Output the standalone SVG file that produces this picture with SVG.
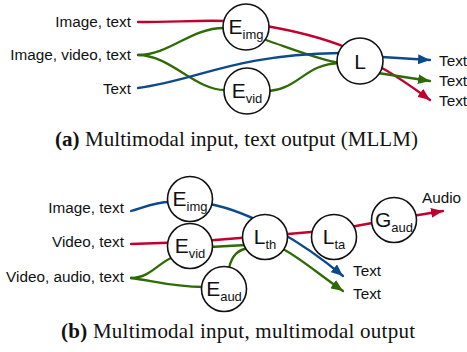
<svg xmlns="http://www.w3.org/2000/svg" width="467" height="352" viewBox="0 0 467 352">
<style>
.lbl{font-family:"Liberation Sans",Arial,sans-serif;font-size:15.3px;fill:#111}
.nl{font-family:"Liberation Sans",Arial,sans-serif;font-size:21px;fill:#111;text-anchor:middle}
.sub{font-size:13px}
.cap{font-family:"Liberation Serif","Times New Roman",serif;font-size:21px;fill:#111;text-anchor:middle}
.node{fill:#fff;stroke:#111;stroke-width:1.6}
.c{fill:none;stroke-width:2.3;stroke-linecap:round}
.r{stroke:#c1002d}
.g{stroke:#2e6b07}
.b{stroke:#0d4a8b}
</style>
<defs>
<marker id="ar" markerUnits="userSpaceOnUse" markerWidth="13" markerHeight="10" refX="12" refY="5" orient="auto"><path d="M0,0 L12,5 L0,10 z" fill="#c1002d"/></marker>
<marker id="ag" markerUnits="userSpaceOnUse" markerWidth="13" markerHeight="10" refX="12" refY="5" orient="auto"><path d="M0,0 L12,5 L0,10 z" fill="#2e6b07"/></marker>
<marker id="ab" markerUnits="userSpaceOnUse" markerWidth="13" markerHeight="10" refX="12" refY="5" orient="auto"><path d="M0,0 L12,5 L0,10 z" fill="#0d4a8b"/></marker>
</defs>
<g id="connectors">
<path class="c r" d="M138,22 C175,22 200,20 226,21"/>
<path class="c r" d="M266,26 C295,31 320,37 345,47 L382,68"/>
<path class="c r" d="M382,68 C400,78 415,89 430,100" marker-end="url(#ar)"/>
<path class="c g" d="M138,55 C170,55 190,28 224,28"/>
<path class="c g" d="M138,55 C170,55 195,90 225,90"/>
<path class="c g" d="M266,40 C295,50 320,60 340,63"/>
<path class="c g" d="M269,91 C300,88 305,64 340,63"/>
<path class="c g" d="M378,73 L430,81" marker-end="url(#ag)"/>
<path class="c b" d="M138,88 C200,80 230,55 340,53"/>
<path class="c b" d="M382,57 L430,60" marker-end="url(#ab)"/>
<path class="c b" d="M131,211 C145,207 155,202 170,202"/>
<path class="c b" d="M210,204 C250,212 300,240 343,276" marker-end="url(#ab)"/>
<path class="c r" d="M131,244 L190,242 L265,236 L334,230 L394,219 L443,211" marker-end="url(#ar)"/>
<path class="c g" d="M131,278 C150,278 158,263 173,257"/>
<path class="c g" d="M131,278 C150,280 170,287 204,287"/>
<path class="c g" d="M210,247 L246,245"/>
<path class="c g" d="M229,268 C232,255 238,250 248,248"/>
<path class="c g" d="M283,249 C300,258 320,275 343,291" marker-end="url(#ag)"/>
</g>
<g id="labels">
<text class="lbl" x="131" y="26.5" text-anchor="end">Image, text</text>
<text class="lbl" x="131" y="60" text-anchor="end">Image, video, text</text>
<text class="lbl" x="131" y="94" text-anchor="end">Text</text>
<text class="lbl" x="439" y="66">Text</text>
<text class="lbl" x="439" y="86">Text</text>
<text class="lbl" x="439" y="106">Text</text>
<text class="lbl" x="124" y="213" text-anchor="end">Image, text</text>
<text class="lbl" x="124" y="247" text-anchor="end">Video, text</text>
<text class="lbl" x="124" y="282" text-anchor="end">Video, audio, text</text>
<text class="lbl" x="353" y="276">Text</text>
<text class="lbl" x="353" y="299">Text</text>
<text class="lbl" x="422" y="203">Audio</text>
</g>
<g id="E_img_a"><circle class="node" cx="246" cy="27" r="23"/><text class="nl" x="246" y="34">E<tspan class="sub" dy="5">img</tspan></text></g>
<g id="E_vid_a"><circle class="node" cx="247" cy="91" r="23"/><text class="nl" x="247" y="98">E<tspan class="sub" dy="5">vid</tspan></text></g>
<g id="L_a"><circle class="node" cx="360" cy="61" r="23"/><text class="nl" x="360" y="68.5">L</text></g>
<g id="E_img_b"><circle class="node" cx="190" cy="199" r="22.5"/><text class="nl" x="190" y="205.5">E<tspan class="sub" dy="5">img</tspan></text></g>
<g id="E_vid_b"><circle class="node" cx="190" cy="246" r="22.5"/><text class="nl" x="190" y="252.5">E<tspan class="sub" dy="5">vid</tspan></text></g>
<g id="E_aud_b"><circle class="node" cx="224" cy="289" r="22.5"/><text class="nl" x="224" y="295.5">E<tspan class="sub" dy="5">aud</tspan></text></g>
<g id="L_th_b"><circle class="node" cx="265" cy="237" r="22.5"/><text class="nl" x="265" y="244">L<tspan class="sub" dy="5">th</tspan></text></g>
<g id="L_ta_b"><circle class="node" cx="334" cy="237" r="22.5"/><text class="nl" x="334" y="244">L<tspan class="sub" dy="5">ta</tspan></text></g>
<g id="G_aud_b"><circle class="node" cx="394" cy="220" r="22.5"/><text class="nl" x="394" y="227">G<tspan class="sub" dy="5">aud</tspan></text></g>
<text class="cap" x="236.5" y="146" textLength="363" lengthAdjust="spacing"><tspan font-weight="bold">(a)</tspan> Multimodal input, text output (MLLM)</text>
<text class="cap" x="238" y="338" textLength="354" lengthAdjust="spacing"><tspan font-weight="bold">(b)</tspan> Multimodal input, multimodal output</text>
</svg>
